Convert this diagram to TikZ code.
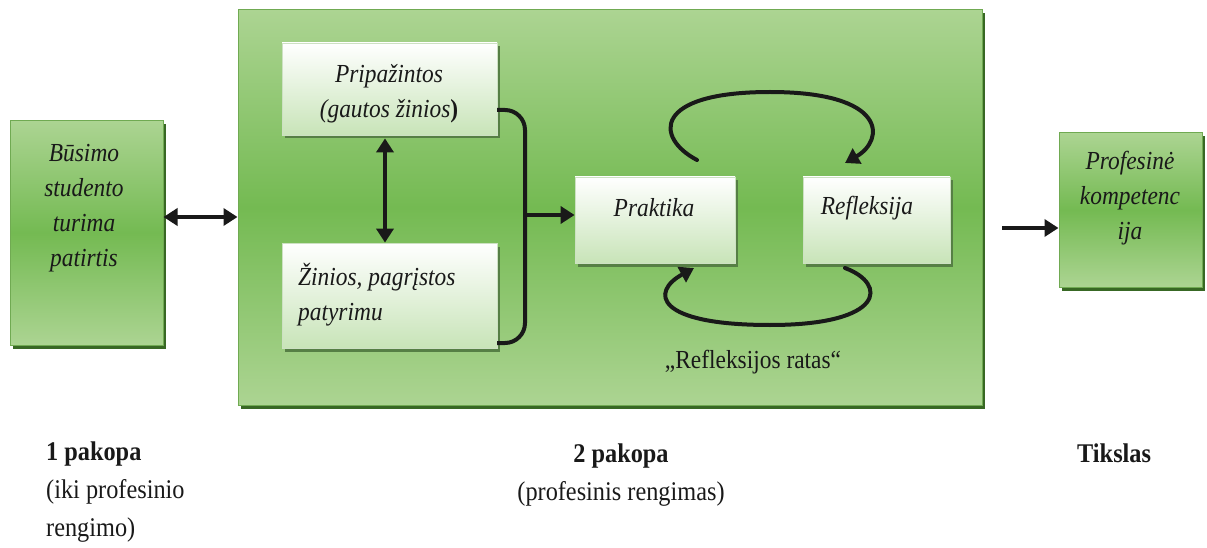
\documentclass[tikz,border=0pt]{standalone}
\usepackage{fontspec}
\setmainfont{Liberation Serif}[FakeStretch=0.9]
\usetikzlibrary{arrows.meta,shadows}

\definecolor{gLight}{RGB}{172,212,146}
\definecolor{gMid}{RGB}{116,186,82}
\definecolor{gEdge}{RGB}{112,170,82}
\definecolor{gShadow}{RGB}{56,104,36}
\definecolor{paleG}{RGB}{200,228,184}
\definecolor{wEdge}{RGB}{205,225,195}
\definecolor{ink}{RGB}{25,25,25}

\tikzset{
  greenbox/.style={draw=gEdge, line width=1pt,
    top color=gLight, bottom color=gLight, middle color=gMid,
    drop shadow={shadow xshift=3pt, shadow yshift=-3.5pt, fill=gShadow, opacity=1},
    inner sep=0pt},
  whitebox/.style={draw=wEdge, line width=0.8pt,
    top color=white, bottom color=paleG,
    drop shadow={shadow xshift=3pt, shadow yshift=-3.5pt, fill=gShadow!85!white, opacity=1},
    inner sep=0pt},
  boxtext/.style={font=\fontsize{26}{35}\selectfont\itshape, text=ink, inner sep=0pt},
  labeltext/.style={font=\fontsize{27}{38}\selectfont, text=ink, inner sep=0pt},
  conn/.style={line width=4pt, draw=ink},
  tip/.tip={Triangle[length=14pt,width=17pt]},
}

\begin{document}
\begin{tikzpicture}[x=1pt,y=-1pt]
  \useasboundingbox (0,0) rectangle (1207,548);

  % boxes
  \node[greenbox, minimum width=153pt, minimum height=224pt] (stud) at (86.5,233) {};
  \node[greenbox, minimum width=744pt, minimum height=395pt] (main) at (610,207.5) {};
  \node[whitebox, minimum width=215pt, minimum height=92pt] (prip) at (389.5,89) {};
  \node[whitebox, minimum width=215pt, minimum height=105pt] (zin) at (389.5,295.5) {};
  \node[whitebox, minimum width=160pt, minimum height=86pt] (prak) at (655,220) {};
  \node[whitebox, minimum width=147pt, minimum height=86pt] (refl) at (876.5,220) {};
  \node[greenbox, minimum width=143pt, minimum height=154pt] (prof) at (1130.5,210) {};

  % texts inside boxes
  \node[boxtext, align=center] (tStud) at (84,208) {Būsimo\\studento\\turima\\patirtis};
  \node[boxtext, align=center] (tPrip) at (389,94) {Pripažintos\\(gautos žinios{\upshape\bfseries )}};
  \node[boxtext, align=left, anchor=west] (tZin) at (298,295) {Žinios, pagrįstos\\patyrimu};
  \node[boxtext] (tPrak) at (654,208) {Praktika};
  \node[boxtext] (tRefl) at (867,208) {Refleksija};
  \node[boxtext, align=center] (tProf) at (1130,198) {Profesinė\\kompetenc\\ija};
  \node[labeltext, font=\fontsize{26}{35}\selectfont] (ratas) at (753,362) {„Refleksijos ratas“};

  % stage labels
  \node[labeltext, align=left, anchor=north west] (p1) at (46,442) {\textbf{1 pakopa}\\(iki profesinio\\rengimo)};
  \node[labeltext, align=center, anchor=north] (p2) at (621,444) {\textbf{2 pakopa}\\(profesinis rengimas)};
  \node[labeltext, anchor=north west] (goal) at (1077,444) {\textbf{Tikslas}};

  % connector helper coordinates
  \coordinate (la) at (0,217);
  \coordinate (vx) at (385,0);
  \coordinate (bTop) at (497,110);
  \coordinate (bCor1) at (525,110);
  \coordinate (bCor2) at (525,343);
  \coordinate (bBot) at (497,343);
  \coordinate (bMid) at (525,215);
  \coordinate (ra) at (1002,228);
  \coordinate (tl1) at (697,160);
  \coordinate (tl2) at (845,163);
  \coordinate (bl1) at (845,268);
  \coordinate (bl2) at (694,268);

  % connectors
  \draw[conn, tip-tip] (la -| stud.east) -- (la -| main.west);
  \draw[conn, tip-tip] ([yshift=-3pt]vx |- prip.south) -- (vx |- zin.north);
  \draw[conn, rounded corners=20pt] (bTop) -- (bCor1) -- (bCor2) -- (bBot);
  \draw[conn, -tip] (bMid) -- (bMid -| prak.west);
  \draw[conn, -tip] (ra) -- (ra -| prof.west);

  % reflection loop
  \draw[conn, -tip, line cap=round] (tl1) .. controls (655,138) and (652,92) .. (770,92)
        .. controls (888,92) and (885,140) .. (tl2);
  \draw[conn, -tip, line cap=round] (bl1) .. controls (888,284) and (885,325) .. (770,325)
        .. controls (655,325) and (650,292) .. (bl2);
\end{tikzpicture}
\end{document}
